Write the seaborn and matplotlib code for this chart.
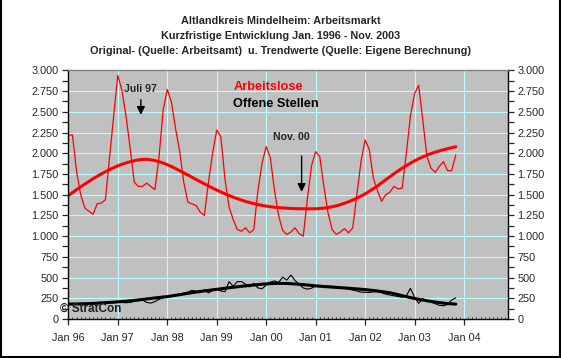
import numpy as np
import pandas as pd
import seaborn as sns
import matplotlib.pyplot as plt
from matplotlib.ticker import FuncFormatter, MultipleLocator
from matplotlib.lines import Line2D

# monthly values Jan 1996 .. Nov 2003 (95 months)
arbeitslose = [2220, 2220, 1780, 1500, 1340, 1300, 1265, 1390, 1400, 1440, 1950, 2450,
               2940, 2760, 2450, 2060, 1650, 1600, 1600, 1640, 1600, 1560, 1950, 2520,
               2770, 2620, 2300, 2030, 1650, 1410, 1390, 1370, 1290, 1250, 1650, 2000,
               2280, 2200, 1690, 1350, 1200, 1080, 1060, 1100, 1040, 1080, 1550, 1880,
               2080, 1950, 1560, 1250, 1070, 1020, 1050, 1100, 1030, 1000, 1450, 1850,
               2020, 1960, 1600, 1280, 1080, 1020, 1050, 1090, 1040, 1100, 1500, 1900,
               2160, 2050, 1700, 1550, 1420, 1500, 1530, 1600, 1570, 1580, 2000, 2450,
               2720, 2820, 2400, 1960, 1820, 1770, 1840, 1900, 1790, 1790, 1980]

arbeitslose_trend = [1490, 1525, 1560, 1595, 1628, 1660, 1692, 1722, 1750, 1777, 1802, 1826,
                     1848, 1866, 1883, 1898, 1910, 1920, 1926, 1927, 1921, 1911, 1898, 1882,
                     1862, 1840, 1816, 1790, 1764, 1738, 1711, 1684, 1657, 1631, 1605, 1580,
                     1556, 1533, 1511, 1490, 1470, 1452, 1435, 1419, 1405, 1392, 1381, 1371,
                     1362, 1355, 1349, 1344, 1340, 1337, 1334, 1332, 1331, 1330, 1330, 1330,
                     1330, 1333, 1338, 1345, 1354, 1365, 1380, 1397, 1415, 1435, 1458, 1483,
                     1510, 1540, 1572, 1606, 1642, 1680, 1716, 1752, 1786, 1820, 1850, 1880,
                     1908, 1933, 1956, 1977, 1996, 2013, 2028, 2042, 2055, 2067, 2078]

offene_stellen = [180, 180, 180, 182, 185, 185, 190, 195, 198, 200, 203, 205,
                  208, 200, 196, 200, 212, 222, 228, 200, 192, 210, 238, 255,
                  265, 275, 285, 298, 310, 325, 345, 335, 330, 350, 315, 345,
                  360, 338, 330, 450, 395, 450, 452, 420, 388, 430, 375, 365,
                  410, 445, 460, 440, 505, 470, 530, 465, 420, 375, 360, 372,
                  400, 405, 398, 392, 395, 378, 382, 372, 360, 350, 338, 325,
                  322, 320, 328, 330, 318, 300, 290, 280, 272, 262, 280, 370,
                  262, 190, 245, 225, 205, 185, 165, 160, 175, 230, 255]

offene_trend = [180, 181, 182, 183, 184, 186, 188, 191, 194, 197, 200, 203,
                207, 211, 215, 220, 225, 230, 236, 242, 248, 254, 260, 266,
                270, 278, 286, 294, 302, 310, 318, 325, 332, 339, 345, 352,
                358, 364, 371, 377, 383, 389, 395, 400, 405, 410, 415, 420,
                424, 427, 429, 430, 430, 429, 426, 423, 419, 415, 410, 405,
                400, 396, 392, 389, 385, 382, 378, 375, 371, 367, 363, 359,
                355, 350, 344, 338, 331, 324, 317, 306, 294, 282, 270, 259,
                248, 238, 229, 220, 212, 205, 198, 192, 187, 183, 180]

year_labels = ["Jan 96", "Jan 97", "Jan 98", "Jan 99", "Jan 00",
               "Jan 01", "Jan 02", "Jan 03", "Jan 04"]

df = pd.DataFrame({
    "monat": np.arange(len(arbeitslose)),
    "arbeitslose": arbeitslose,
    "arbeitslose_trend": arbeitslose_trend,
    "offene_stellen": offene_stellen,
    "offene_trend": offene_trend,
})

sns.set_style("white")
plt.rcParams["font.family"] = ["Liberation Sans", "DejaVu Sans"]

fig = plt.figure(figsize=(5.61, 3.58), dpi=100)
fig.patch.set_facecolor("white")
ax = fig.add_axes([0.1218, 0.1089, 0.7832, 0.6945])
ax.set_facecolor("#c0c0c0")

sns.lineplot(data=df, x="monat", y="arbeitslose", ax=ax, color="#ff0000", linewidth=0.9)
sns.lineplot(data=df, x="monat", y="offene_stellen", ax=ax, color="black", linewidth=0.8)
sns.lineplot(data=df, x="monat", y="arbeitslose_trend", ax=ax, color="#ff0000", linewidth=2.2)
sns.lineplot(data=df, x="monat", y="offene_trend", ax=ax, color="black", linewidth=2.2)

ax.set_xlim(0, 106.6)
ax.set_ylim(0, 3000)
ax.set_xticks(np.arange(0, 97, 12))
ax.set_xticklabels(year_labels)
ax.xaxis.set_minor_locator(MultipleLocator(1))
ax.yaxis.set_major_locator(MultipleLocator(250))
ax.yaxis.set_minor_locator(MultipleLocator(125))
ax.yaxis.set_major_formatter(FuncFormatter(lambda v, p: f"{int(v):,}".replace(",", ".")))
ax.set_xlabel("")
ax.set_ylabel("")

ax.grid(True, which="major", color="#b8ffff", linewidth=0.8)
ax.set_axisbelow(True)
ax.tick_params(axis="y", which="both", left=True, right=True, labelleft=True, labelright=True,
               direction="out", length=4, width=0.9, labelsize=7.8, pad=3)
ax.tick_params(axis="x", which="major", bottom=True, direction="out", length=4, width=0.9,
               labelsize=7.8, pad=6)
ax.tick_params(axis="x", which="minor", bottom=True, direction="in", length=1.5, width=0.6)
for side in ["left", "bottom", "right"]:
    ax.spines[side].set_color("black")
    ax.spines[side].set_linewidth(1.0)
ax.spines["top"].set_color("#808080")
ax.spines["top"].set_linewidth(1.0)

# titles
fig.text(0.5, 1 - 21 / 358, "Altlandkreis Mindelheim: Arbeitsmarkt", ha="center", va="center",
         fontsize=7.8, fontweight="bold")
fig.text(0.5, 1 - 36 / 358, "Kurzfristige Entwicklung Jan. 1996 - Nov. 2003", ha="center",
         va="center", fontsize=7.8, fontweight="bold")
fig.text(0.5, 1 - 51 / 358,
         "Original- (Quelle: Arbeitsamt)  u. Trendwerte (Quelle: Eigene Berechnung)",
         ha="center", va="center", fontsize=7.8, fontweight="bold")

# legend texts
ax.text(40.0, 2800, "Arbeitslose", color="#ff0000", fontsize=9.2, fontweight="bold",
        ha="left", va="center")
ax.text(40.0, 2600, "Offene Stellen", color="black", fontsize=9.2, fontweight="bold",
        ha="left", va="center")

# annotations
ax.annotate("", xy=(17.6, 2430), xytext=(17.6, 2680),
            arrowprops=dict(arrowstyle="-|>", color="black", lw=1.0, mutation_scale=12))
ax.text(17.5, 2776, "Juli 97", fontsize=7.6, fontweight="bold", ha="center", va="center")
ax.annotate("", xy=(56.6, 1500), xytext=(56.6, 2000),
            arrowprops=dict(arrowstyle="-|>", color="black", lw=1.0, mutation_scale=12))
ax.text(54.2, 2200, "Nov. 00", fontsize=7.6, fontweight="bold", ha="center", va="center")

ax.text(-2.0, 120, "\u00a9 StratCon", fontsize=8.5, fontweight="bold", color="#202020",
        ha="left", va="center")

# frame around the picture (no top edge)
for xs, ys in [([0.001, 0.001], [0, 1]), ([0.999, 0.999], [0, 1]), ([0, 1], [0.002, 0.002])]:
    fig.add_artist(Line2D(xs, ys, transform=fig.transFigure, color="black", linewidth=1.5))

fig.savefig("out.png", dpi=100)
